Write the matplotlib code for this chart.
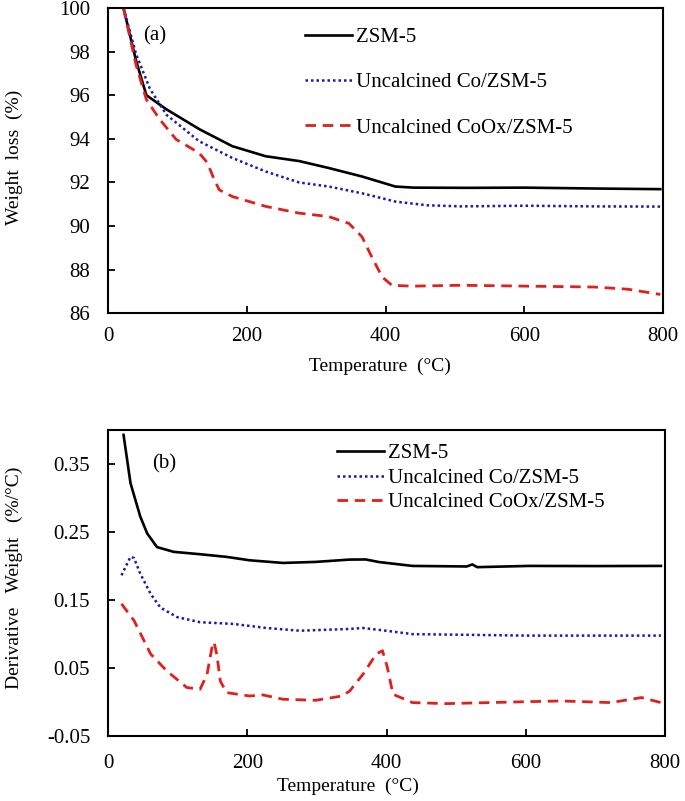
import matplotlib
matplotlib.use("Agg")
import matplotlib.pyplot as plt

plt.rcParams["font.family"] = ["Liberation Serif", "DejaVu Serif"]

labels = ["ZSM-5", "Uncalcined Co/ZSM-5", "Uncalcined CoOx/ZSM-5"]

# (a) TGA weight loss
t_zsm = [22, 40, 55, 84, 132, 179, 227, 275, 318, 366, 414, 440, 520, 600, 700, 796]
w_zsm = [100, 97.6, 96.0, 95.35, 94.43, 93.66, 93.2, 92.98, 92.66, 92.27, 91.81, 91.76, 91.75, 91.76, 91.72, 91.69]

t_co = [22, 40, 60, 84, 131, 179, 227, 275, 318, 366, 414, 460, 509, 600, 700, 796]
w_co = [100, 97.9, 96.3, 95.1, 93.89, 93.12, 92.5, 92.0, 91.81, 91.5, 91.12, 90.95, 90.9, 90.93, 90.9, 90.89]

t_coox = [22, 40, 55, 74, 98, 131, 143, 151, 160, 179, 227, 275, 318, 347, 366, 380,
          395, 409, 438, 509, 605, 701, 749, 796]
w_coox = [100, 97.4, 95.8, 94.9, 93.97, 93.35, 92.9, 92.27, 91.66, 91.35, 90.9, 90.59,
          90.43, 90.12, 89.5, 88.58, 87.66, 87.28, 87.24, 87.28, 87.24, 87.2, 87.1, 86.86]

# (b) DTG derivative weight
d_t_zsm = [22, 32, 46, 56, 70, 94, 132, 170, 203, 251, 298, 346, 370, 389, 437, 515, 523,
           530, 604, 700, 794]
d_zsm = [0.393, 0.322, 0.273, 0.248, 0.228, 0.221, 0.2175, 0.2136, 0.2086, 0.2047, 0.2062,
         0.2096, 0.2098, 0.206, 0.2003, 0.1995, 0.2025, 0.1985, 0.2003, 0.2001, 0.2003]

d_t_co = [19, 32, 37, 46, 61, 75, 99, 132, 180, 227, 275, 346, 366, 399, 437, 604, 794]
d_co = [0.1865, 0.2136, 0.212, 0.189, 0.159, 0.139, 0.125, 0.1175, 0.115, 0.109, 0.105,
        0.1076, 0.109, 0.105, 0.100, 0.0978, 0.0978]

d_t_coox = [19, 37, 61, 84, 113, 132, 142, 150, 152, 156, 161, 170, 203, 222, 251, 298,
            336, 347, 366, 385, 394, 401, 409, 437, 485, 604, 651, 722, 766, 794]
d_coox = [0.1446, 0.12, 0.0707, 0.046, 0.0214, 0.019, 0.041, 0.086, 0.088, 0.07, 0.031,
          0.014, 0.009, 0.0106, 0.0042, 0.0027, 0.009, 0.0165, 0.041, 0.0707, 0.0756, 0.051,
          0.0116, -0.0007, -0.0022, 0.0007, 0.0017, -0.0007, 0.0067, -0.0007]

fig = plt.figure(figsize=(6.85, 8.01), dpi=100)
ax1 = fig.add_axes([0.158, 0.609, 0.810, 0.381])
ax2 = fig.add_axes([0.158, 0.081, 0.813, 0.382])

styles = [
    dict(color="black", lw=1.9, linestyle="-"),
    dict(color="#1a1aa8", lw=1.8, linestyle=(0, (1, 1.2))),
    dict(color="#e0201c", lw=2.0, linestyle=(0, (3.8, 2.4))),
]

for x, y, lab, st in zip([t_zsm, t_co, t_coox], [w_zsm, w_co, w_coox], labels, styles):
    ax1.plot(x, y, label=lab, **st)

for x, y, lab, st in zip([d_t_zsm, d_t_co, d_t_coox], [d_zsm, d_co, d_coox], labels, styles):
    ax2.plot(x, y, label=lab, **st)

ax1.set_xlim(0, 800)
ax1.set_ylim(86, 100)
ax1.set_xticks([0, 200, 400, 600, 800])
ax1.set_yticks(range(86, 101, 2))
ax1.set_xlabel("Temperature  (\u00b0C)", fontsize=14)
ax1.xaxis.set_label_coords(0.49, -0.145)
ax1.set_ylabel("Weight  loss  (%)", fontsize=14)
ax1.yaxis.set_label_coords(-0.153, 0.511)
ax1.text(0.063, 0.91, "(a)", transform=ax1.transAxes, fontsize=15, va="center")
ax1.legend(loc="upper left", bbox_to_anchor=(0.355, 0.937), frameon=False, fontsize=15,
           handlelength=2.25, handletextpad=0.2, labelspacing=1.24,
           borderpad=0, borderaxespad=0)

ax2.set_xlim(0, 800)
ax2.set_ylim(-0.05, 0.40)
ax2.set_xticks([0, 200, 400, 600, 800])
ax2.set_yticks([-0.05, 0.05, 0.15, 0.25, 0.35])
ax2.set_yticklabels(["-0.05", "0.05", "0.15", "0.25", "0.35"])
ax2.set_xlabel("Temperature  (\u00b0C)", fontsize=14)
ax2.xaxis.set_label_coords(0.431, -0.135)
ax2.set_ylabel("Derivative   Weight   (%/\u00b0C)", fontsize=14)
ax2.yaxis.set_label_coords(-0.153, 0.516)
ax2.text(0.079, 0.889, "(b)", transform=ax2.transAxes, fontsize=15, va="center")
ax2.legend(loc="upper left", bbox_to_anchor=(0.411, 0.955), frameon=False, fontsize=15,
           handlelength=2.25, handletextpad=0.2, labelspacing=0.23,
           borderpad=0, borderaxespad=0)

ax1.tick_params(axis="x", pad=10)
ax2.tick_params(axis="x", pad=13)
for ax in (ax1, ax2):
    ax.tick_params(direction="in", top=False, right=False, labelsize=15, length=5, width=1.3)
    ax.tick_params(axis="y", pad=13)
    for s in ax.spines.values():
        s.set_linewidth(1.5)

fig.savefig("out.png", dpi=100)
